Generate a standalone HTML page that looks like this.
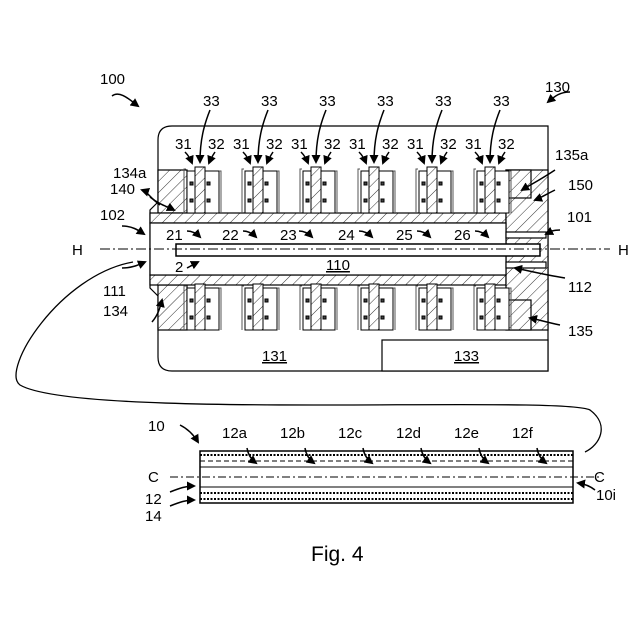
<!DOCTYPE html>
<html><head><style>body{margin:0;background:#fff}svg{display:block}text{font-family:"Liberation Sans",sans-serif;fill:#000}</style></head><body>
<svg width="640" height="640" viewBox="0 0 640 640">
<defs>
<pattern id="h" patternUnits="userSpaceOnUse" width="8" height="8" patternTransform="rotate(45)"><rect width="8" height="8" fill="#fff"/><line x1="0" y1="0" x2="0" y2="8" stroke="#333" stroke-width="1"/></pattern>
<marker id="a" markerUnits="userSpaceOnUse" markerWidth="9" markerHeight="9" refX="7" refY="4.5" orient="auto"><path d="M0,0 L9,4.5 L0,9 z" fill="#000"/></marker>
<g id="cu">
<rect x="-13" y="0" width="8" height="42" fill="#fff" stroke="#000"/>
<rect x="5" y="0" width="14" height="42" fill="#fff" stroke="#000"/>
<path d="M-14,-2 h-2 v44 M19,0 h2 v42" fill="none" stroke="#555"/>
<rect x="-5" y="-4" width="10" height="46" fill="url(#h)" stroke="#000"/>
<rect x="-10" y="11" width="3" height="3" fill="#444"/><rect x="7" y="11" width="3" height="3" fill="#444"/>
<rect x="-10" y="28" width="3" height="3" fill="#444"/><rect x="7" y="28" width="3" height="3" fill="#444"/>
</g>
</defs>
<g stroke="#000" stroke-width="1.2" fill="none">
<path d="M172,126 H548 V371 H172 Q158,371 158,357 V296 L150,288 V210 L158,202 V140 Q158,126 172,126 Z" fill="#fff"/>
<rect x="158" y="170" width="29" height="43" fill="url(#h)"/>
<rect x="158" y="285" width="29" height="45" fill="url(#h)"/>
<rect x="150" y="213" width="356" height="10" fill="url(#h)"/>
<rect x="150" y="275" width="356" height="10" fill="url(#h)"/>
<rect x="506" y="170" width="42" height="160" fill="url(#h)"/>
<rect x="506" y="170" width="25" height="28" fill="url(#h)"/>
<rect x="506" y="300" width="25" height="30" fill="url(#h)"/>
<rect x="150" y="223" width="356" height="52" fill="#fff"/>
<rect x="506" y="232" width="40" height="6" fill="#fff"/>
<rect x="506" y="262" width="40" height="6" fill="#fff"/>
<rect x="176" y="244" width="364" height="12" fill="#fff" stroke-width="1.5"/>
<rect x="382" y="340" width="166" height="31" fill="#fff"/>
<line x1="100" y1="249" x2="610" y2="249" stroke-dasharray="10,3,2,3" stroke-width="1"/>
</g>
<g stroke="#000">
<use href="#cu" x="200" y="171"/><use href="#cu" x="258" y="171"/><use href="#cu" x="316" y="171"/><use href="#cu" x="374" y="171"/><use href="#cu" x="432" y="171"/><use href="#cu" x="490" y="171"/>
<use href="#cu" x="200" y="288"/><use href="#cu" x="258" y="288"/><use href="#cu" x="316" y="288"/><use href="#cu" x="374" y="288"/><use href="#cu" x="432" y="288"/><use href="#cu" x="490" y="288"/>
</g>
<g stroke="#000" fill="none">
<rect x="200" y="451" width="373" height="52" fill="#fff" stroke-width="1.5"/>
<line x1="200" y1="467" x2="573" y2="467"/><line x1="200" y1="487" x2="573" y2="487"/>
<line x1="200" y1="455" x2="573" y2="455" stroke-dasharray="2,1.5" stroke-width="2"/>
<line x1="200" y1="461" x2="573" y2="461" stroke-dasharray="5,3"/>
<line x1="200" y1="493" x2="573" y2="493" stroke-dasharray="2,1.5" stroke-width="2"/>
<line x1="200" y1="499" x2="573" y2="499" stroke-dasharray="2,1.5" stroke-width="2"/>
<line x1="170" y1="477" x2="600" y2="477" stroke-dasharray="8,3,2,3"/>
<path d="M133,262 C60,275 0,370 20,385 C80,420 560,395 590,410 C610,425 600,445 585,452" stroke-width="1.3"/>
</g>
<g stroke="#000" fill="none" stroke-width="1.5" marker-end="url(#a)">
<path d="M112,96 C120,90 130,100 138,106"/>
<path d="M570,92 C560,92 555,96 548,102"/>
<path d="M160,205 C150,198 148,192 142,190"/>
<path d="M122,226 C132,226 138,230 144,234"/>
<path d="M122,268 C132,268 138,265 145,262"/>
<path d="M152,322 C158,315 160,308 162,300"/>
<path d="M150,197 C160,205 166,206 174,210"/>
<path d="M555,170 C540,180 530,185 522,190"/>
<path d="M555,190 C545,195 540,198 535,200"/>
<path d="M560,230 C552,230 550,232 546,234"/>
<path d="M565,278 C545,275 525,270 515,268"/>
<path d="M560,325 C545,322 540,320 530,318"/>
<path d="M180,425 C190,430 195,437 198,442"/>
<path d="M170,492 C180,488 186,486 194,486"/>
<path d="M170,506 C180,502 186,500 194,500"/>
<path d="M595,490 C590,486 585,484 578,483"/>
</g>
<g stroke="#000" fill="none" stroke-width="1.5">
<g id="arr6">
<path d="M210,110 C204,125 200,140 200,162" marker-end="url(#a)"/>
<path d="M185,152 C188,155 190,158 192,163" marker-end="url(#a)"/>
<path d="M215,152 C213,155 211,158 209,163" marker-end="url(#a)"/>
</g>
<use href="#arr6" x="58"/><use href="#arr6" x="116"/><use href="#arr6" x="174"/><use href="#arr6" x="232"/><use href="#arr6" x="290"/>
<g id="ia"><path d="M187,231 C192,231 196,233 200,237" marker-end="url(#a)"/></g>
<use href="#ia" x="56"/><use href="#ia" x="112"/><use href="#ia" x="172"/><use href="#ia" x="230"/><use href="#ia" x="288"/>
<path d="M187,268 C191,266 194,264 198,262" marker-end="url(#a)"/>
<g id="la"><path d="M247,448 C248,455 252,460 256,463" marker-end="url(#a)"/></g>
<use href="#la" x="58"/><use href="#la" x="116"/><use href="#la" x="174"/><use href="#la" x="232"/><use href="#la" x="290"/>
</g>
<g font-size="15">
<text x="100" y="84">100</text><text x="545" y="92">130</text>
<text x="203" y="106">33</text><text x="261" y="106">33</text><text x="319" y="106">33</text><text x="377" y="106">33</text><text x="435" y="106">33</text><text x="493" y="106">33</text>
<g id="l3"><text x="175" y="149">31</text><text x="208" y="149">32</text></g>
<use href="#l3" x="58"/><use href="#l3" x="116"/><use href="#l3" x="174"/><use href="#l3" x="232"/><use href="#l3" x="290"/>
<text x="555" y="160">135a</text><text x="568" y="190">150</text><text x="567" y="222">101</text>
<text x="113" y="178">134a</text><text x="110" y="194">140</text><text x="100" y="220">102</text>
<text x="72" y="255">H</text><text x="618" y="255">H</text>
<text x="103" y="296">111</text><text x="103" y="316">134</text>
<text x="568" y="292">112</text><text x="568" y="336">135</text>
<text x="166" y="240">21</text><text x="222" y="240">22</text><text x="280" y="240">23</text><text x="338" y="240">24</text><text x="396" y="240">25</text><text x="454" y="240">26</text>
<text x="175" y="272">2</text>
<text x="326" y="270" text-decoration="underline">110</text>
<text x="262" y="361" text-decoration="underline">131</text><text x="454" y="361" text-decoration="underline">133</text>
<text x="148" y="431">10</text>
<text x="222" y="438">12a</text><text x="280" y="438">12b</text><text x="338" y="438">12c</text><text x="396" y="438">12d</text><text x="454" y="438">12e</text><text x="512" y="438">12f</text>
<text x="148" y="482">C</text><text x="594" y="482">C</text>
<text x="145" y="504">12</text><text x="145" y="521">14</text><text x="596" y="500">10i</text>
<text x="311" y="561" font-size="21">Fig. 4</text>
</g>
</svg>
</body></html>
